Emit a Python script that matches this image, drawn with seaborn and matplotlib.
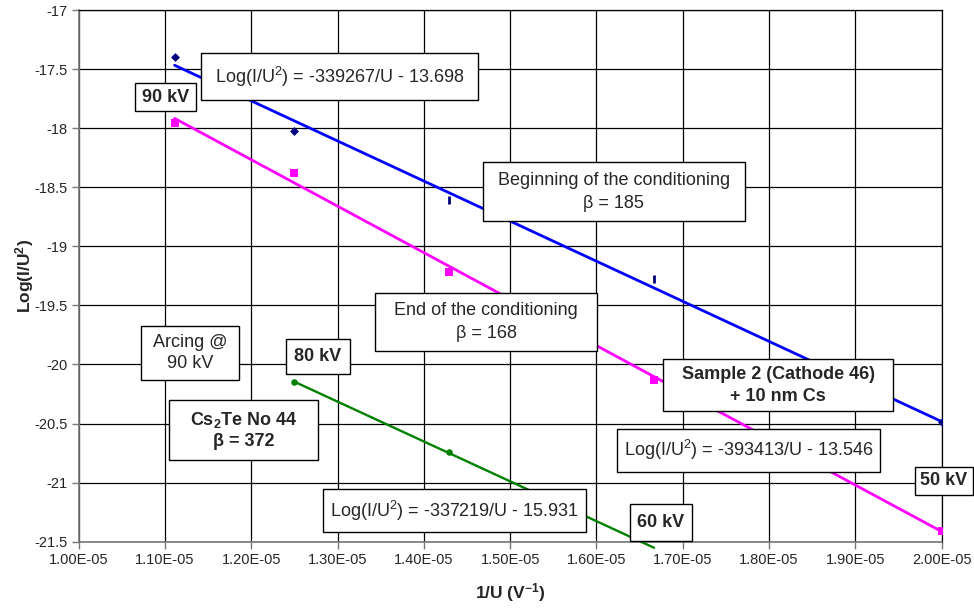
import numpy as np
import pandas as pd
import matplotlib
matplotlib.use("Agg")
import matplotlib.pyplot as plt
import seaborn as sns
from matplotlib.patches import Rectangle
from matplotlib.ticker import FixedLocator, FixedFormatter

# ---------------- data ----------------
voltage_kV = [90, 80, 70, 60, 50]
beginning_log = [-17.40, -18.02, -18.61, -19.28, -20.49]
end_log = [-17.96, -18.38, -19.22, -20.13, -21.41]
cs2te_kV = [80, 70, 60]
cs2te_log = [-20.15, -20.74, -21.55]

trend_names = ["beginning", "end", "cs2te"]
trend_slopes = [-339267, -393413, -337219]
trend_intercepts = [-13.698, -13.546, -15.931]
trend_range_kV = [(90, 50), (90, 50), (80, 60)]

x_tick_values = [1.0e-5, 1.1e-5, 1.2e-5, 1.3e-5, 1.4e-5, 1.5e-5, 1.6e-5, 1.7e-5, 1.8e-5, 1.9e-5, 2.0e-5]
x_tick_labels = ["1.00E-05", "1.10E-05", "1.20E-05", "1.30E-05", "1.40E-05", "1.50E-05",
                 "1.60E-05", "1.70E-05", "1.80E-05", "1.90E-05", "2.00E-05"]
y_tick_values = [-21.5, -21, -20.5, -20, -19.5, -19, -18.5, -18, -17.5, -17]
y_tick_labels = ["-21.5", "-21", "-20.5", "-20", "-19.5", "-19", "-18.5", "-18", "-17.5", "-17"]

# ---------------- style ----------------
sns.set_style("white")
plt.rcParams["font.family"] = ["Liberation Sans", "DejaVu Sans"]
plt.rcParams["mathtext.fontset"] = "custom"
plt.rcParams["mathtext.rm"] = "Liberation Sans"
plt.rcParams["mathtext.it"] = "Liberation Sans:italic"
plt.rcParams["mathtext.bf"] = "Liberation Sans:bold"

W, H = 974, 609
fig = plt.figure(figsize=(W / 100, H / 100), dpi=100)
ax = fig.add_axes([78.7 / W, 1 - 541.7 / H, (941.7 - 78.7) / W, (541.7 - 10) / H])

inv_u = lambda kv: 1.0 / (np.asarray(kv, dtype=float) * 1000.0)

df_begin = pd.DataFrame({"x": inv_u(voltage_kV), "y": beginning_log, "kV": voltage_kV})
df_end = pd.DataFrame({"x": inv_u(voltage_kV), "y": end_log})
df_cs = pd.DataFrame({"x": inv_u(cs2te_kV), "y": cs2te_log})

# trendlines
trend_colors = {"beginning": "#0000FF", "end": "#FF00FF", "cs2te": "#008000"}
trend_lw = {"beginning": 2.0, "end": 2.0, "cs2te": 1.7}
for name, m, b, (k0, k1) in zip(trend_names, trend_slopes, trend_intercepts, trend_range_kV):
    xs = inv_u([k0, k1])
    tdf = pd.DataFrame({"x": xs, "y": m * xs + b})
    sns.lineplot(data=tdf, x="x", y="y", ax=ax, color=trend_colors[name],
                 lw=trend_lw[name], zorder=3)
    if name == "cs2te":
        ax.lines[-1].set_clip_on(False)

# markers
diamond_mask = df_begin["kV"].isin([90, 80, 50])
sns.scatterplot(data=df_begin[diamond_mask], x="x", y="y", ax=ax, marker="D", s=16,
                color="#000080", edgecolor="#000080", linewidth=0.5, zorder=4)
sns.scatterplot(data=df_begin[~diamond_mask], x="x", y="y", ax=ax, marker="|", s=30,
                color="#000080", linewidth=2.0, zorder=4)
sns.scatterplot(data=df_end, x="x", y="y", ax=ax, marker="s", s=40,
                color="#FF00FF", edgecolor="#FF00FF", linewidth=0, zorder=4)
sns.scatterplot(data=df_cs, x="x", y="y", ax=ax, marker="o", s=22,
                color="#008000", edgecolor="#008000", linewidth=0, zorder=4)

# axes
ax.set_xlim(1.0e-5, 2.0e-5)
ax.set_ylim(-21.5, -17)
ax.xaxis.set_major_locator(FixedLocator(x_tick_values))
ax.xaxis.set_major_formatter(FixedFormatter(x_tick_labels))
ax.yaxis.set_major_locator(FixedLocator(y_tick_values))
ax.yaxis.set_major_formatter(FixedFormatter(y_tick_labels))
ax.grid(True, color="black", lw=0.9, zorder=0)
ax.set_axisbelow(True)
for s in ["top", "right"]:
    ax.spines[s].set_color("black")
    ax.spines[s].set_linewidth(0.9)
for s in ["left", "bottom"]:
    ax.spines[s].set_color("#777777")
    ax.spines[s].set_linewidth(1.2)
ax.tick_params(axis="both", direction="out", length=5, width=1, color="#777777",
               labelsize=10.5, pad=3, left=True, bottom=True)
ax.set_xlabel(r"1/U (V$^{\mathbf{-1}}$)", fontsize=12.5, fontweight="bold", labelpad=10)
ax.set_ylabel(r"Log(I/U$^{\mathbf{2}}$)", fontsize=12.5, fontweight="bold", labelpad=-1.5)


def box(x0, x1, y0, y1, text, bold=False, fs=13, ls=1.4):
    rect = Rectangle((x0 / W, 1 - y1 / H), (x1 - x0) / W, (y1 - y0) / H,
                     transform=fig.transFigure, facecolor="white", edgecolor="black",
                     linewidth=1.0, zorder=5)
    fig.add_artist(rect)
    fig.text((x0 + x1) / 2 / W, 1 - (y0 + y1) / 2 / H, text, ha="center", va="center",
             multialignment="center", fontsize=fs, linespacing=ls,
             fontweight="bold" if bold else "normal", zorder=6)


box(201, 478, 53.3, 100, r"Log(I/U$^2$) = -339267/U - 13.698")
box(135, 196, 83.3, 111, "90 kV", bold=True)
box(482.7, 745, 162.3, 221, "Beginning of the conditioning\nβ = 185", ls=1.45)
box(375, 597.3, 292.7, 350.7, "End of the conditioning\nβ = 168", ls=1.45)
box(141, 239.3, 326, 380, "Arcing @\n90 kV", ls=1.35)
box(286, 350, 339.3, 374, "80 kV", bold=True)
box(169, 318.3, 400, 460, "Cs$_\\mathbf{2}$Te No 44\nβ = 372", bold=True, ls=1.3)
box(663.3, 893.3, 359.3, 411.3, "Sample 2 (Cathode 46)\n+ 10 nm Cs", bold=True, ls=1.35)
box(617.3, 880, 429, 471.7, r"Log(I/U$^2$) = -393413/U - 13.546")
box(915, 972.7, 466.7, 495, "50 kV", bold=True)
box(323.3, 586, 489.3, 532.3, r"Log(I/U$^2$) = -337219/U - 15.931")
box(630, 691.7, 504, 541, "60 kV", bold=True)

fig.savefig("out.png", dpi=100)
